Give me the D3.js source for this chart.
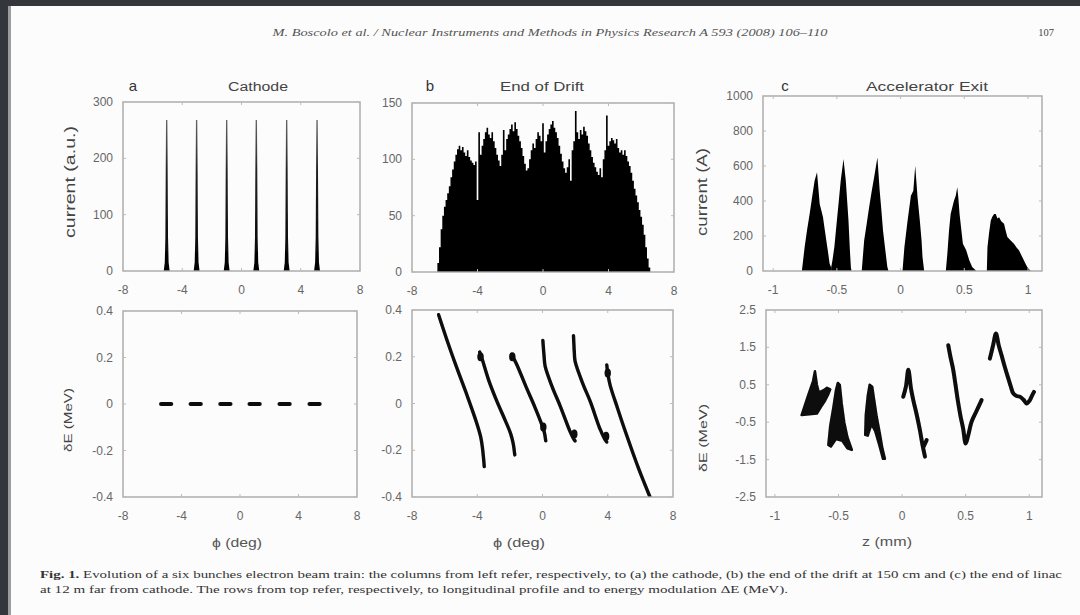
<!DOCTYPE html>
<html><head><meta charset="utf-8">
<script src="https://cdn.jsdelivr.net/npm/d3@7"></script>
<style>
html,body{margin:0;padding:0;background:#fff;}
svg{display:block;}
</style></head>
<body>
<svg id="chart" width="1080" height="615"></svg>
<script>
// ---------------- DATA ----------------
const headerText = "M. Boscolo et al. / Nuclear Instruments and Methods in Physics Research A 593 (2008) 106–110";
const pageNumber = "107";
const captionLine1 = "Evolution of a six bunches electron beam train: the columns from left refer, respectively, to (a) the cathode, (b) the end of the drift at 150 cm and (c) the end of linac";
const captionLine2 = "at 12 m far from cathode. The rows from top refer, respectively, to longitudinal profile and to energy modulation ΔE (MeV).";

const panelLetters = ["a", "b", "c"];
const panelTitles = ["Cathode", "End of Drift", "Accelerator Exit"];

const phaseTicks = [-8, -4, 0, 4, 8];
const zTicks = [-1, -0.5, 0, 0.5, 1];
const aTopYTicks = [0, 100, 200, 300];
const bTopYTicks = [0, 50, 100, 150];
const cTopYTicks = [0, 200, 400, 600, 800, 1000];
const dEYTicks = [-0.4, -0.2, 0, 0.2, 0.4];
const cBotYTicks = [-2.5, -1.5, -0.5, 0.5, 1.5, 2.5];

// (a) cathode: bunch centres (deg) and spike profile (offset deg, current a.u.)
const aCenters = [-5.05, -3.03, -1.0, 1.0, 3.05, 5.1];
const aSpikeOffset = [-0.2, -0.13, -0.09, -0.065, -0.045, 0.045, 0.065, 0.09, 0.13, 0.2];
const aSpikeCurrent = [0, 15, 60, 180, 268, 268, 180, 60, 15, 0];
const aDashHalfWidth = 0.35;

// (b) end of drift: histogram, bins of 0.1 deg starting at -6.45 deg
const bBinStart = -6.45;
const bBinWidth = 0.1;
const bCurrent = [8,22,38,50,58,64,70,76,84,91,98,104,109,112,108,111,106,103,108,102,
  99,97,95,98,64,124,104,112,118,124,128,122,119,124,116,110,104,99,94,104,
  126,108,118,122,127,131,125,133,127,121,116,110,103,96,90,92,100,108,114,110,
  118,124,121,116,132,106,116,122,127,131,134,128,124,119,112,105,98,92,88,93,
  100,81,108,116,143,124,118,126,122,129,125,121,114,108,102,97,93,89,86,92,
  84,100,108,139,112,116,119,117,114,118,110,106,108,104,108,103,98,94,88,81,
  74,68,62,55,49,42,33,22,12,4];

// (b) energy vs phase, one curve per bunch [phase deg, dE MeV]
const bCurves = [
  [[-6.37,0.38],[-5.8,0.26],[-5.24,0.15],[-4.6,0.03],[-4.05,-0.08],[-3.8,-0.14],[-3.7,-0.18],[-3.62,-0.23],[-3.57,-0.27]],
  [[-3.85,0.22],[-3.7,0.19],[-3.3,0.1],[-2.8,0.01],[-2.3,-0.07],[-1.95,-0.13],[-1.8,-0.17],[-1.7,-0.22]],
  [[-1.9,0.21],[-1.6,0.17],[-1.0,0.07],[-0.5,-0.01],[-0.1,-0.08],[0.1,-0.12],[0.2,-0.16]],
  [[0.02,0.27],[0.1,0.2],[0.16,0.16],[0.6,0.07],[1.08,-0.01],[1.69,-0.12],[1.9,-0.15],[2.0,-0.16]],
  [[1.9,0.29],[1.95,0.22],[2.0,0.18],[2.5,0.08],[2.92,0.01],[3.53,-0.11],[3.8,-0.15],[3.94,-0.165]],
  [[3.94,0.165],[4.0,0.13],[4.14,0.08],[4.6,-0.02],[5.16,-0.136],[5.9,-0.28],[6.59,-0.4]]
];
// (b) thicker blobs at the ends of some bunches [phase deg, dE MeV]
const bBlobs = [[-3.8,0.2],[-1.85,0.2],[0.05,-0.1],[1.95,-0.13],[3.9,-0.14],[4.0,0.13]];

// (c) accelerator exit: current profile of each bunch [z mm, current A]
const cPeaks = [
  [[-0.775,0],[-0.753,137],[-0.735,230],[-0.714,326],[-0.695,420],[-0.675,516],[-0.656,564],[-0.645,470],[-0.635,383],[-0.62,340],[-0.609,307],[-0.596,240],[-0.583,175],[-0.57,110],[-0.557,42],[-0.545,20]],
  [[-0.545,20],[-0.535,60],[-0.52,137],[-0.5,288],[-0.485,400],[-0.47,516],[-0.448,640],[-0.43,516],[-0.409,288],[-0.398,120],[-0.39,20],[-0.385,0]],
  [[-0.305,0],[-0.286,175],[-0.266,270],[-0.247,364],[-0.228,450],[-0.208,535],[-0.182,649],[-0.164,459],[-0.15,340],[-0.138,231],[-0.12,120],[-0.104,23],[-0.095,0]],
  [[0.015,0],[0.03,137],[0.055,288],[0.081,430],[0.1,459],[0.115,601],[0.133,421],[0.151,288],[0.165,170],[0.172,80],[0.185,0]],
  [[0.355,0],[0.367,99],[0.38,230],[0.393,326],[0.419,402],[0.433,430],[0.445,478],[0.453,420],[0.463,326],[0.476,240],[0.489,156],[0.515,118],[0.54,60],[0.562,23],[0.595,0]],
  [[0.677,0],[0.682,137],[0.695,220],[0.708,288],[0.72,310],[0.734,326],[0.747,326],[0.76,300],[0.773,307],[0.79,285],[0.812,270],[0.825,230],[0.838,194],[0.864,175],[0.89,156],[0.91,135],[0.929,118],[0.955,80],[0.975,50],[0.994,23],[1.02,0]]
];

// (c) energy vs z: filled regions (first three bunches) and lines (last three) [z mm, dE MeV]
const cBlobs = [
  [[-0.79,-0.31],[-0.74,0.2],[-0.70,0.6],[-0.685,0.86],[-0.67,0.5],[-0.655,0.3],[-0.62,0.35],[-0.59,0.42],[-0.565,0.38],[-0.58,0.25],[-0.61,0.05],[-0.64,-0.1],[-0.67,-0.27]],
  [[-0.58,-1.11],[-0.565,-0.6],[-0.54,-0.1],[-0.52,0.35],[-0.505,0.55],[-0.49,0.5],[-0.475,0.0],[-0.455,-0.5],[-0.43,-0.9],[-0.395,-1.24],[-0.43,-1.2],[-0.47,-1.0],[-0.52,-0.95],[-0.56,-1.15]],
  [[-0.29,-0.84],[-0.285,-0.3],[-0.27,0.2],[-0.255,0.5],[-0.235,0.45],[-0.22,0.1],[-0.2,-0.35],[-0.175,-0.8],[-0.155,-1.2],[-0.135,-1.48],[-0.15,-1.48],[-0.18,-1.1],[-0.21,-0.75],[-0.24,-0.55],[-0.26,-0.75],[-0.27,-0.86]]
];
const cLines = [
  [[0.009,0.18],[0.03,0.45],[0.049,0.9],[0.07,0.4],[0.088,0.09],[0.115,-0.3],[0.14,-0.71],[0.16,-1.1],[0.18,-1.42]],
  [[0.363,1.56],[0.38,1.25],[0.4,0.94],[0.42,0.5],[0.44,0.04],[0.46,-0.35],[0.48,-0.67],[0.5,-1.07],[0.52,-0.85],[0.546,-0.49],[0.585,-0.2],[0.625,0.09]],
  [[0.69,1.2],[0.715,1.55],[0.738,1.87],[0.76,1.55],[0.782,1.29],[0.81,0.95],[0.835,0.67],[0.855,0.45],[0.874,0.27],[0.9,0.2],[0.927,0.18],[0.955,0.1],[0.979,0.0],[1.005,0.09],[1.02,0.2],[1.037,0.31]],
  [[0.17,-1.15],[0.193,-0.98]]
];

// ---------------- DRAWING ----------------
const svg = d3.select("#chart");
const defs = svg.append("defs");
defs.append("filter").attr("id","soft").attr("filterUnits","userSpaceOnUse")
  .attr("x",0).attr("y",0).attr("width",1080).attr("height",615)
  .append("feGaussianBlur").attr("stdDeviation",0.6);

// page & photo border
svg.append("rect").attr("width",1080).attr("height",615).attr("fill","#fcfcfc");
svg.append("rect").attr("x",0).attr("y",0).attr("width",1080).attr("height",6).attr("fill","#33373c");
svg.append("rect").attr("x",0).attr("y",0).attr("width",8).attr("height",615).attr("fill","#33373c");
svg.append("rect").attr("x",8).attr("y",6).attr("width",3).attr("height",609).attr("fill","#9a9ca0");

const root = svg.append("g");
const sans = "'Liberation Sans', Arial, sans-serif";
const serif = "'Liberation Serif', 'Times New Roman', serif";

// header
root.append("text").attr("x",550).attr("y",36).attr("text-anchor","middle")
  .attr("font-family",serif).attr("font-style","italic").attr("font-size",10.5)
  .attr("fill","#555").attr("textLength",555).attr("lengthAdjust","spacingAndGlyphs").text(headerText);
root.append("text").attr("x",1046).attr("y",36).attr("text-anchor","middle")
  .attr("font-family",serif).attr("font-size",10.5).attr("fill","#444").text(pageNumber);

// caption
const cap1 = root.append("text").attr("x",40).attr("y",578).attr("font-family",serif)
  .attr("font-size",9.5).attr("fill","#333").attr("textLength",1022).attr("lengthAdjust","spacingAndGlyphs");
cap1.append("tspan").attr("font-weight","bold").text("Fig. 1. ");
cap1.append("tspan").text(captionLine1);
root.append("text").attr("x",40).attr("y",593).attr("font-family",serif)
  .attr("font-size",9.5).attr("fill","#333").attr("textLength",748).attr("lengthAdjust","spacingAndGlyphs")
  .text(captionLine2);

function makePanel(box, xDom, yDom, xTicks, yTicks) {
  const x = d3.scaleLinear().domain(xDom).range([box.l, box.r]);
  const y = d3.scaleLinear().domain(yDom).range([box.b, box.t]);
  const g = root.append("g");
  const clipId = "clip" + Math.round(box.l) + "_" + Math.round(box.t);
  defs.append("clipPath").attr("id", clipId).append("rect")
    .attr("x", box.l).attr("y", box.t).attr("width", box.r - box.l).attr("height", box.b - box.t);
  const clipped = g.append("g").attr("clip-path", "url(#" + clipId + ")");
  const plot = clipped.append("g").attr("filter","url(#soft)");
  const frame = g.append("g");
  frame.append("rect").attr("x",box.l).attr("y",box.t).attr("width",box.r-box.l).attr("height",box.b-box.t)
    .attr("fill","none").attr("stroke","#a8a8a8").attr("stroke-width",1.4);
  xTicks.forEach(v => {
    frame.append("line").attr("x1",x(v)).attr("x2",x(v)).attr("y1",box.b).attr("y2",box.b-3).attr("stroke","#bbb");
    frame.append("line").attr("x1",x(v)).attr("x2",x(v)).attr("y1",box.t).attr("y2",box.t+3).attr("stroke","#bbb");
  });
  yTicks.forEach(v => {
    frame.append("line").attr("x1",box.l).attr("x2",box.l+3).attr("y1",y(v)).attr("y2",y(v)).attr("stroke","#bbb");
    frame.append("line").attr("x1",box.r).attr("x2",box.r-3).attr("y1",y(v)).attr("y2",y(v)).attr("stroke","#bbb");
  });
  g.append("g").selectAll("text").data(xTicks).join("text")
    .attr("x", d => x(d)).attr("y", box.b + 23).attr("text-anchor","middle")
    .attr("font-family",sans).attr("font-size",12).attr("fill","#666").text(d => String(d));
  g.append("g").selectAll("text").data(yTicks).join("text")
    .attr("x", box.l - 10).attr("y", d => y(d) + 4).attr("text-anchor","end")
    .attr("font-family",sans).attr("font-size",12).attr("fill","#666").text(d => String(d));
  return {x, y, g, plot, box};
}

function yTitle(px, py, txt, size, len) {
  root.append("text").attr("transform",`translate(${px},${py}) rotate(-90)`).attr("text-anchor","middle")
    .attr("font-family",sans).attr("font-size",size).attr("fill","#444")
    .attr("textLength",len).attr("lengthAdjust","spacingAndGlyphs").text(txt);
}
function xTitle(px, py, txt, len) {
  root.append("text").attr("x",px).attr("y",py).attr("text-anchor","middle")
    .attr("font-family",sans).attr("font-size",12).attr("fill","#555")
    .attr("textLength",len).attr("lengthAdjust","spacingAndGlyphs").text(txt);
}

// titles
const letterX = [133, 430, 785];
const titleX = [258, 542, 927];
const titleLen = [60, 84, 122];
panelLetters.forEach((l,i) => {
  root.append("text").attr("x",letterX[i]).attr("y",91).attr("text-anchor","middle")
    .attr("font-family",sans).attr("font-size",15).attr("fill","#333").text(l);
  root.append("text").attr("x",titleX[i]).attr("y",91).attr("text-anchor","middle")
    .attr("font-family",sans).attr("font-size",12).attr("fill","#444")
    .attr("textLength",titleLen[i]).attr("lengthAdjust","spacingAndGlyphs").text(panelTitles[i]);
});

// ---- panel a top
const aT = makePanel({l:123,r:360,t:102,b:271}, [-8,8], [0,300], phaseTicks, aTopYTicks);
const grad = defs.append("linearGradient").attr("id","spikeGrad").attr("gradientUnits","userSpaceOnUse")
  .attr("x1",0).attr("x2",0).attr("y1",aT.y(270)).attr("y2",aT.y(0));
grad.append("stop").attr("offset","0").attr("stop-color","#666");
grad.append("stop").attr("offset","0.35").attr("stop-color","#222");
grad.append("stop").attr("offset","1").attr("stop-color","#000");
const spikeArea = d3.area().x(d => d[0]).y0(aT.y(0)).y1(d => d[1]);
aCenters.forEach(c => {
  const pts = aSpikeOffset.map((o,i) => [aT.x(c+o), aT.y(aSpikeCurrent[i])]);
  aT.plot.append("path").attr("d", spikeArea(pts)).attr("fill","url(#spikeGrad)");
});
yTitle(75, 182, "current (a.u.)", 15, 112);

// ---- panel b top (histogram as a step area so the bins merge)
const bT = makePanel({l:412,r:674,t:103,b:272}, [-8,8], [0,150], phaseTicks, bTopYTicks);
const bSteps = bCurrent.map((v,i) => [bBinStart + i*bBinWidth, v]);
bSteps.push([bBinStart + bCurrent.length*bBinWidth, 0]);
const bArea = d3.area().x(d => bT.x(d[0])).y0(bT.y(0)).y1(d => bT.y(d[1])).curve(d3.curveStepAfter);
bT.plot.append("path").attr("d", bArea(bSteps)).attr("fill","#050505");

// ---- panel c top
const cT = makePanel({l:763,r:1042,t:96,b:271}, [-1.08,1.11], [0,1000], zTicks, cTopYTicks);
const cArea = d3.area().x(d => cT.x(d[0])).y0(cT.y(0)).y1(d => cT.y(d[1]));
cPeaks.forEach(p => cT.plot.append("path").attr("d", cArea(p)).attr("fill","#050505"));
yTitle(707, 192, "current (A)", 15, 88);

// ---- panel a bottom
const aB = makePanel({l:123,r:357,t:311,b:497}, [-8,8], [-0.4,0.4], phaseTicks, dEYTicks);
aB.plot.selectAll("line.dash").data(aCenters).join("line").attr("class","dash")
  .attr("x1", d => aB.x(d - aDashHalfWidth)).attr("x2", d => aB.x(d + aDashHalfWidth))
  .attr("y1", aB.y(0)).attr("y2", aB.y(0)).attr("stroke","#111").attr("stroke-width",4).attr("stroke-linecap","round");
yTitle(72, 420, "δE (MeV)", 11.5, 64);
xTitle(237, 547, "ϕ (deg)", 50);

// ---- panel b bottom
const bB = makePanel({l:412,r:673,t:310,b:497}, [-8,8], [-0.4,0.4], phaseTicks, dEYTicks);
const bLine = d3.line().x(d => bB.x(d[0])).y(d => bB.y(d[1])).curve(d3.curveCatmullRom);
bCurves.forEach(c => bB.plot.append("path").attr("d", bLine(c)).attr("fill","none")
  .attr("stroke","#0a0a0a").attr("stroke-width",3.4).attr("stroke-linecap","round").attr("stroke-linejoin","round"));
bB.plot.selectAll("ellipse.blob").data(bBlobs).join("ellipse").attr("class","blob")
  .attr("cx", d => bB.x(d[0])).attr("cy", d => bB.y(d[1])).attr("rx",3.2).attr("ry",4.5).attr("fill","#0a0a0a");
xTitle(519, 547, "ϕ (deg)", 52);

// ---- panel c bottom
const cB = makePanel({l:766,r:1042,t:310,b:497}, [-1.07,1.1], [-2.5,2.5], zTicks, cBotYTicks);
const cPoly = d3.line().x(d => cB.x(d[0])).y(d => cB.y(d[1])).curve(d3.curveLinearClosed);
cBlobs.forEach(b => cB.plot.append("path").attr("d", cPoly(b)).attr("fill","#0a0a0a")
  .attr("stroke","#0a0a0a").attr("stroke-width",2.5).attr("stroke-linejoin","round"));
const cLine = d3.line().x(d => cB.x(d[0])).y(d => cB.y(d[1])).curve(d3.curveCatmullRom);
cLines.forEach(c => cB.plot.append("path").attr("d", cLine(c)).attr("fill","none")
  .attr("stroke","#0a0a0a").attr("stroke-width",4).attr("stroke-linecap","round").attr("stroke-linejoin","round"));
yTitle(707, 438, "δE (MeV)", 11.5, 68);
xTitle(887, 546, "z (mm)", 50);
</script>
</body></html>
